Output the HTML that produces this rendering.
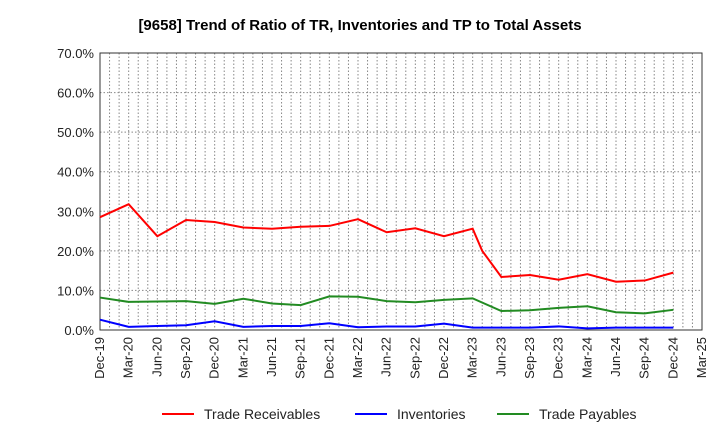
<!DOCTYPE html>
<html><head><meta charset="utf-8"><style>
body{margin:0;background:#fff;font-family:"Liberation Sans",sans-serif}
svg text{font-family:"Liberation Sans",sans-serif}
</style></head><body>
<svg width="720" height="440" id="c">
<text x="360" y="30" text-anchor="middle" font-size="15" font-weight="bold" fill="#000">[9658]  Trend of Ratio of TR, Inventories and TP to Total Assets</text>
</svg>
<script>
const xLabels=["Dec-19","Mar-20","Jun-20","Sep-20","Dec-20","Mar-21","Jun-21","Sep-21","Dec-21","Mar-22","Jun-22","Sep-22","Dec-22","Mar-23","Jun-23","Sep-23","Dec-23","Mar-24","Jun-24","Sep-24","Dec-24","Mar-25"];
const yTicks=[0,10,20,30,40,50,60,70];
const trMonths=[0,3,6,9,12,15,18,21,24,27,30,33,36,39,40,42,45,48,51,54,57,60];
const trValues=[28.5,31.8,23.7,27.8,27.3,25.9,25.6,26.1,26.3,28.0,24.7,25.7,23.7,25.6,20.0,13.4,13.9,12.7,14.1,12.2,12.5,14.5];
const qMonths=[0,3,6,9,12,15,18,21,24,27,30,33,36,39,42,45,48,51,54,57,60];
const invValues=[2.6,0.8,1.0,1.2,2.2,0.8,1.0,1.0,1.7,0.7,0.9,0.9,1.6,0.6,0.6,0.6,0.9,0.4,0.6,0.6,0.6];
const tpValues=[8.2,7.1,7.2,7.3,6.6,7.9,6.7,6.3,8.5,8.4,7.3,7.0,7.6,8.0,4.8,5.0,5.6,6.0,4.5,4.2,5.1];
const X0=100,X1=702,Y0=330,Y1=53,NM=63;
const xs=m=>X0+(X1-X0)*m/NM;
const ys=v=>Y0-(Y0-Y1)*v/70;
const svg=document.getElementById('c');const NS="http://www.w3.org/2000/svg";
function mk(t,a){const e=document.createElementNS(NS,t);for(const k in a)e.setAttribute(k,a[k]);svg.appendChild(e);return e;}
for(let m=1;m<NM;m++){const l=mk('line',{x1:xs(m),x2:xs(m),y1:Y1,y2:Y0,stroke:'#888','stroke-dasharray':'1.5,2','stroke-width':1});

}
yTicks.forEach(v=>{if(v>0){const l=mk('line',{x1:X0,x2:X1,y1:ys(v),y2:ys(v),stroke:'#888','stroke-dasharray':'1.5,2','stroke-width':1});

}
const t=mk('text',{x:X0-6,y:ys(v)+5,'text-anchor':'end','font-size':13,fill:'#222'});t.textContent=v.toFixed(1)+'%';

});
xLabels.forEach((s,i)=>{const x=xs(i*3);const t=mk('text',{x:x+4,y:Y0+7,'text-anchor':'end','font-size':13,fill:'#222',transform:`rotate(-90 ${x+4} ${Y0+7})`});t.textContent=s;

});
const fr=mk('rect',{x:X0,y:Y1,width:X1-X0,height:Y0-Y1,fill:'none',stroke:'#333','stroke-width':1});


function line(ms,vs,c,n){const p=mk('polyline',{points:ms.map((m,i)=>xs(m)+','+ys(vs[i])).join(' '),fill:'none',stroke:c,'stroke-width':2});

}
line(qMonths,tpValues,'#228b22','trade-payables-line');
line(qMonths,invValues,'#0000ff','inventories-line');
line(trMonths,trValues,'#ff0000','trade-receivables-line');
const leg=[["Trade Receivables","#ff0000",162],["Inventories","#0000ff",355],["Trade Payables","#228b22",497]];
leg.forEach(([s,c,x])=>{const l=mk('line',{x1:x,x2:x+32,y1:414,y2:414,stroke:c,'stroke-width':2});


const t=mk('text',{x:x+42,y:419,'font-size':14,fill:'#222'});t.textContent=s;

});
</script>
</body></html>
